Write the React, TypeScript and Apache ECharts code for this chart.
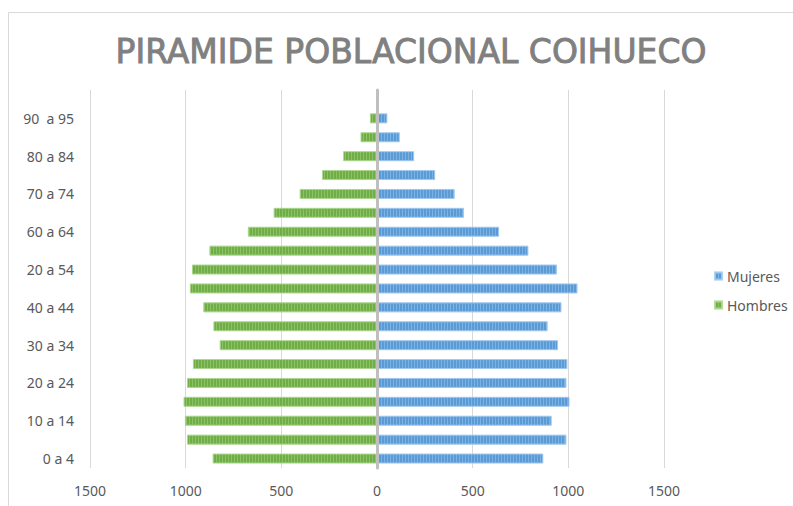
import React, { useEffect, useRef } from "react";
import * as echarts from "echarts";

const categories = [
  "0 a 4", "5 a 9", "10 a 14", "15 a 19", "20 a 24", "25 a 29", "30 a 34", "35 a 39",
  "40 a 44", "45 a 49", "20 a 54", "55 a 59", "60 a 64", "65 a 69", "70 a 74", "75 a 79",
  "80 a 84", "85 a 89", "90  a 95", "",
];
const mujeres = [869, 990, 913, 1006, 990, 995, 946, 892, 964, 1048, 941, 791, 638, 455, 406, 304, 194, 119, 54, null];
const hombres = [859, 993, 1004, 1011, 993, 962, 822, 855, 908, 978, 967, 876, 675, 540, 404, 287, 177, 86, 37, null];
const xTicks = { min: -1500, max: 1500, interval: 500 };

export default function App() {
  const ref = useRef<HTMLDivElement>(null);
  useEffect(() => {
    if (!ref.current) return;
    const chart = echarts.init(ref.current, null, { renderer: "svg" });
    const decal = (c: string) => ({
      symbol: "rect",
      symbolSize: 1,
      dashArrayX: [1, 2],
      dashArrayY: [40, 0],
      color: c,
      rotation: 0,
    });
    chart.setOption({
      animation: false,
      backgroundColor: "#ffffff",
      title: {
        text: "PIRAMIDE POBLACIONAL COIHUECO",
        left: 406,
        textAlign: "center",
        top: 30,
        textStyle: {
          fontFamily: "DejaVu Sans",
          fontWeight: "normal",
          fontSize: 33,
          color: "#808080",
          textBorderColor: "#808080",
          textBorderWidth: 0.9,
        },
      },
      graphic: [
        {
          type: "rect",
          shape: { x: 8.5, y: 12.5, width: 900, height: 600 },
          style: { fill: "none", stroke: "#d9d9d9", lineWidth: 1 },
          silent: true,
        },
      ],
      legend: {
        orient: "vertical",
        left: 709,
        top: 264,
        itemWidth: 7,
        itemHeight: 7,
        itemGap: 15,
        icon: "rect",
        textStyle: { color: "#595959", fontSize: 14, fontFamily: "Noto Sans" },
        data: ["Mujeres", "Hombres"],
      },
      grid: { left: 90, right: 129, top: 90, bottom: 38 },
      xAxis: {
        type: "value",
        min: xTicks.min,
        max: xTicks.max,
        interval: xTicks.interval,
        axisLine: { show: false },
        axisTick: { show: false },
        axisLabel: {
          color: "#595959",
          fontSize: 14,
          fontFamily: "Noto Sans",
          margin: 15,
          formatter: (v: number) => String(Math.abs(v)),
        },
        splitLine: { lineStyle: { color: "#d9d9d9", width: 1 } },
      },
      yAxis: [
        {
          type: "category",
          data: categories,
          position: "left",
          axisLine: { show: false, onZero: false },
          axisTick: { show: false },
          axisLabel: {
            interval: 1,
            color: "#595959",
            fontSize: 14,
            fontFamily: "Noto Sans",
            margin: 16,
          },
        },
        {
          type: "category",
          data: categories,
          z: 10,
          axisLine: { show: true, onZero: true, lineStyle: { color: "#bfbfbf", width: 3 } },
          axisTick: { show: false },
          axisLabel: { show: false },
        },
      ],
      series: [
        {
          name: "Mujeres",
          type: "bar",
          data: mujeres,
          barWidth: 10,
          barGap: "-100%",
          itemStyle: {
            color: "#5b9bd5",
            borderColor: "rgba(160,200,240,0.6)",
            borderWidth: 1,
            decal: decal("rgba(150,195,240,0.55)"),
          },
        },
        {
          name: "Hombres",
          type: "bar",
          data: hombres.map((v) => (v == null ? null : -v)),
          barWidth: 10,
          barGap: "-100%",
          itemStyle: {
            color: "#70ad47",
            borderColor: "rgba(170,215,140,0.6)",
            borderWidth: 1,
            decal: decal("rgba(160,210,125,0.55)"),
          },
        },
      ],
    });
    return () => chart.dispose();
  }, []);
  return <div ref={ref} style={{ width: 793, height: 506, position: "absolute", left: 0, top: 0 }} />;
}
